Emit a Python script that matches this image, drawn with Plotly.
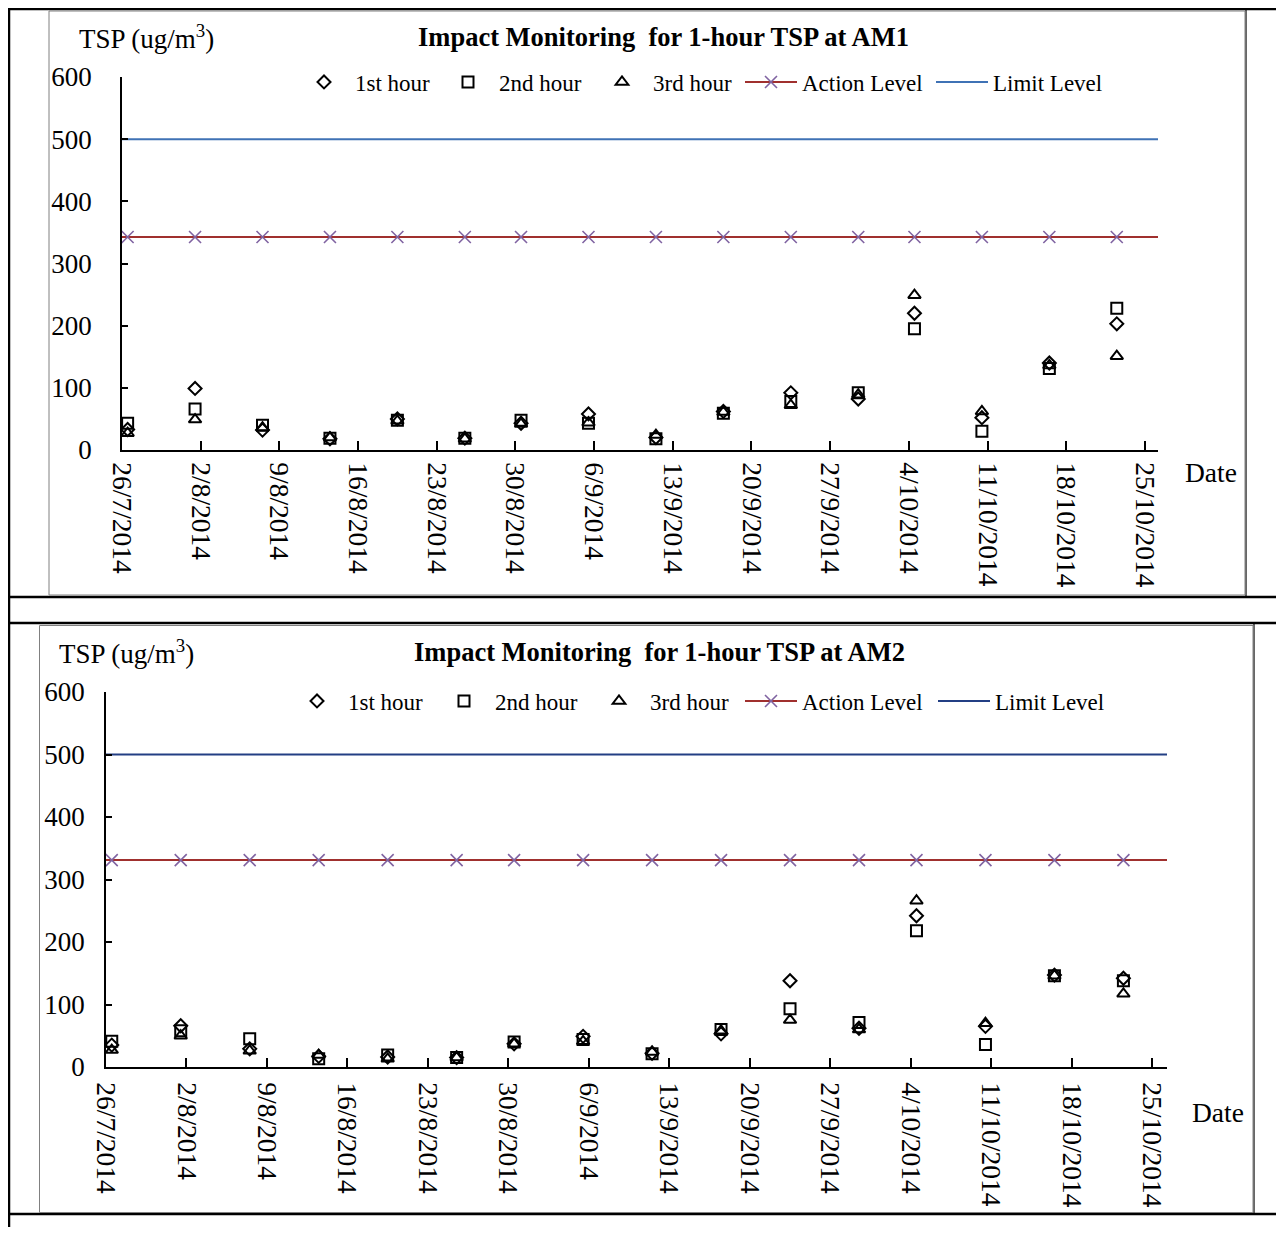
import plotly.graph_objects as go

# ---------------- data ----------------
sample_dates = ["2014-07-26 12:00", "2014-08-01 12:00", "2014-08-07 12:00", "2014-08-13 12:00",
                "2014-08-19 12:00", "2014-08-25 12:00", "2014-08-30 12:00", "2014-09-05 12:00",
                "2014-09-11 12:00", "2014-09-17 12:00", "2014-09-23 12:00", "2014-09-29 12:00",
                "2014-10-04 12:00", "2014-10-10 12:00", "2014-10-16 12:00", "2014-10-22 12:00"]

am1_hour1 = [33, 99, 32, 18, 50, 19, 43, 58, 20, 62, 92, 82, 220, 52, 140, 203]
am1_hour2 = [43, 66, 40, 19, 48, 19, 48, 43, 18, 59, 78, 92, 195, 30, 131, 228]
am1_hour3 = [27, 49, 36, 20, 47, 18, 42, 44, 24, 61, 72, 89, 249, 62, 136, 151]
am1_action = 342.6
am1_limit = 500

am2_hour1 = [35, 66, 29, 17, 16, 15, 37, 49, 22, 53, 138, 62, 242, 65, 147, 142]
am2_hour2 = [41, 58, 45, 13, 19, 15, 40, 44, 21, 60, 93, 71, 218, 36, 146, 138]
am2_hour3 = [27, 50, 26, 19, 13, 15, 37, 41, 24, 58, 75, 60, 266, 70, 146, 117]
am2_action = 331
am2_limit = 500

tick_dates = ["2014-07-26", "2014-08-02", "2014-08-09", "2014-08-16", "2014-08-23",
              "2014-08-30", "2014-09-06", "2014-09-13", "2014-09-20", "2014-09-27",
              "2014-10-04", "2014-10-11", "2014-10-18", "2014-10-25"]
tick_labels = ["26/7/2014", "2/8/2014", "9/8/2014", "16/8/2014", "23/8/2014",
               "30/8/2014", "6/9/2014", "13/9/2014", "20/9/2014", "27/9/2014",
               "4/10/2014", "11/10/2014", "18/10/2014", "25/10/2014"]
y_ticks = [0, 100, 200, 300, 400, 500, 600]

series_names = ["1st hour", "2nd hour", "3rd hour", "Action Level", "Limit Level"]
titles = ["Impact Monitoring  for 1-hour TSP at AM1", "Impact Monitoring  for 1-hour TSP at AM2"]

# ---------------- layout helpers ----------------
W, H = 1268, 1219   # figure size (page body has an 8px margin)
OFF = 8
FONT = "Liberation Serif"


def px(x):
    return (x - OFF) / W


def py(y):
    return 1 - (y - OFF) / H


x_range1 = ["2014-07-26 00:00", "2014-10-26 04:00"]
x_range2 = ["2014-07-26 00:00", "2014-10-26 07:00"]

# legend entry left edges (screen px) for each chart, and vertical centre
legend_x1 = [293, 437, 591, 740, 931]
legend_x2 = [286, 433, 588, 740, 933]
legend_y = [82, 701]

fig = go.Figure()


def add_chart(k, xa, ya, h1, h2, h3, action, limit, xr, limit_color):
    legs = ["legend" if (5 * k + i) == 0 else "legend%d" % (5 * k + i + 1) for i in range(5)]
    common = dict(xaxis=xa, yaxis=ya)
    fig.add_trace(go.Scatter(x=sample_dates, y=h1, mode="markers", name=series_names[0], legend=legs[0],
                             marker=dict(symbol="diamond-open", size=10, color="black",
                                         line=dict(width=2, color="black")), **common))
    fig.add_trace(go.Scatter(x=sample_dates, y=h2, mode="markers", name=series_names[1], legend=legs[1],
                             marker=dict(symbol="square-open", size=11, color="black",
                                         line=dict(width=2, color="black")), **common))
    fig.add_trace(go.Scatter(x=sample_dates, y=h3, mode="markers", name=series_names[2], legend=legs[2],
                             marker=dict(symbol="triangle-up-open", size=11, color="black",
                                         line=dict(width=2, color="black")), **common))
    fig.add_trace(go.Scatter(x=xr, y=[action, action], mode="lines", showlegend=False,
                             line=dict(color="#A0302E", width=2), hoverinfo="skip", **common))
    fig.add_trace(go.Scatter(x=sample_dates, y=[action] * len(sample_dates), mode="lines+markers",
                             name=series_names[3], legend=legs[3],
                             line=dict(color="#A0302E", width=2),
                             marker=dict(symbol="x-thin", size=12, color="#8064A2",
                                         line=dict(width=1.6, color="#8064A2")), **common))
    fig.add_trace(go.Scatter(x=xr, y=[limit, limit], mode="lines", name=series_names[4], legend=legs[4],
                             line=dict(color=limit_color, width=2), **common))
    return legs


legs1 = add_chart(0, "x", "y", am1_hour1, am1_hour2, am1_hour3, am1_action, am1_limit, x_range1, "#3F72B5")
legs2 = add_chart(1, "x2", "y2", am2_hour1, am2_hour2, am2_hour3, am2_action, am2_limit, x_range2, "#233F84")

axis_common = dict(showline=True, linecolor="black", linewidth=1.5, ticks="inside",
                   tickcolor="black", tickwidth=1.5, showgrid=False, zeroline=False,
                   automargin=False)

xaxis_common = dict(axis_common, type="date", tickvals=tick_dates, ticktext=tick_labels,
                    tickangle=90, ticklen=9, tickfont=dict(family=FONT, size=27.5, color="black"))
yaxis_common = dict(axis_common, range=[0, 600], tickvals=y_ticks, ticklen=6,
                    tickfont=dict(family=FONT, size=27, color="black"))

legend_common = dict(orientation="h", font=dict(family=FONT, size=23, color="black"),
                     itemwidth=52, bgcolor="rgba(0,0,0,0)", borderwidth=0,
                     xanchor="left", yanchor="middle")

legend_layout = {}
for legs, xs, yc in [(legs1, legend_x1, legend_y[0]), (legs2, legend_x2, legend_y[1])]:
    for name, xl in zip(legs, xs):
        legend_layout[name] = dict(legend_common, x=px(xl), y=py(yc))

line_style = dict(color="black", width=2.5)
frame_style = dict(color="#808080", width=1)

shapes = [
    # table borders
    dict(type="line", x0=px(8), x1=1.0, y0=py(9), y1=py(9), line=line_style),
    dict(type="line", x0=px(9), x1=px(9), y0=py(8), y1=0.0, line=line_style),
    dict(type="line", x0=px(1246), x1=px(1246), y0=py(9), y1=py(597), line=dict(color="black", width=1.2)),
    dict(type="line", x0=px(8), x1=1.0, y0=py(597), y1=py(597), line=line_style),
    dict(type="line", x0=px(8), x1=1.0, y0=py(623), y1=py(623), line=line_style),
    dict(type="line", x0=px(1254), x1=px(1254), y0=py(623), y1=py(1214), line=dict(color="black", width=1.2)),
    dict(type="line", x0=px(8), x1=1.0, y0=py(1214), y1=py(1214), line=line_style),
    # chart frames
    dict(type="rect", x0=px(49), x1=px(1245), y0=py(11), y1=py(595), line=frame_style),
    dict(type="rect", x0=px(39.5), x1=px(1253), y0=py(625.5), y1=py(1212.5), line=frame_style),
]
for s in shapes:
    s.update(xref="paper", yref="paper", layer="above")

title_font = dict(family=FONT, size=26.5, color="black")
unit_font = dict(family=FONT, size=27, color="black")
date_font = dict(family=FONT, size=27.5, color="black")
annotations = [
    dict(text="TSP (ug/m<sup>3</sup>)", x=px(77), y=py(37), xanchor="left", yanchor="middle", font=unit_font),
    dict(text="<b>" + titles[0] + "</b>", x=px(663), y=py(37), xanchor="center", yanchor="middle", font=title_font),
    dict(text="Date", x=px(1211), y=py(472), xanchor="center", yanchor="middle", font=date_font),
    dict(text="TSP (ug/m<sup>3</sup>)", x=px(57), y=py(652), xanchor="left", yanchor="middle", font=unit_font),
    dict(text="<b>" + titles[1] + "</b>", x=px(659), y=py(652), xanchor="center", yanchor="middle", font=title_font),
    dict(text="Date", x=px(1218), y=py(1112), xanchor="center", yanchor="middle", font=date_font),
]
for a in annotations:
    a.update(xref="paper", yref="paper", showarrow=False)

fig.update_layout(
    width=W, height=H,
    margin=dict(l=0, r=0, t=0, b=0, pad=0),
    paper_bgcolor="white", plot_bgcolor="rgba(0,0,0,0)",
    showlegend=True,
    xaxis=dict(xaxis_common, domain=[px(122), px(1158)], range=x_range1, anchor="y", ticklabelstandoff=5),
    yaxis=dict(yaxis_common, domain=[py(450), py(77)], anchor="x", ticklabelstandoff=23),
    xaxis2=dict(xaxis_common, domain=[px(106), px(1167)], range=x_range2, anchor="y2", ticklabelstandoff=8),
    yaxis2=dict(yaxis_common, domain=[py(1067), py(692)], anchor="x2", ticklabelstandoff=14),
    shapes=shapes,
    annotations=annotations,
    **legend_layout,
)

fig.write_html("out.html")
